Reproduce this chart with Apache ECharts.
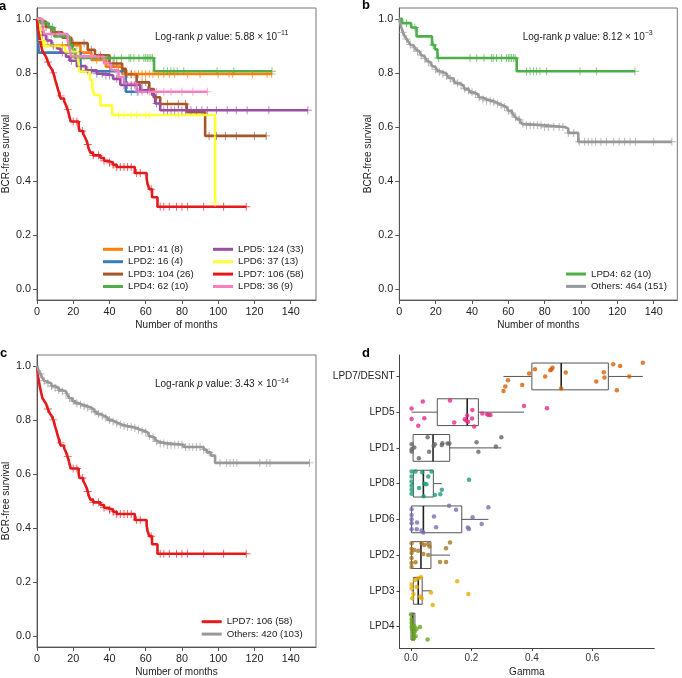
<!DOCTYPE html>
<html><head><meta charset="utf-8">
<script src="https://cdn.jsdelivr.net/npm/echarts/dist/echarts.min.js"></script>
<style>html,body{margin:0;padding:0;background:#fff}#c{width:682px;height:678px}</style>
</head><body><div id="c"></div>
<script>
// ---------- tick labels ----------
const monthTicks = [0, 20, 40, 60, 80, 100, 120, 140];
const survTicks = [0, 0.2, 0.4, 0.6, 0.8, 1.0];
const gammaTicks = [0, 0.2, 0.4, 0.6];
const boxCategories = ['LPD4', 'LPD3', 'LPD2', 'LPD6', 'LPD8', 'LPD1', 'LPD5', 'LPD7/DESNT'];

// ---------- Kaplan-Meier curves (step times, survival after step, end, censor times) ----------
const lpd1Times = [0, 1, 2, 3, 24, 30, 38, 47];
const lpd1Surv = [1, 0.976, 0.951, 0.902, 0.875, 0.848, 0.823, 0.796];
const lpd1End = 129.5;
const lpd1Censor = [14, 22, 33, 45, 50, 52, 54, 56, 58, 60, 62, 64, 67, 70, 73, 76, 83, 90, 100, 106, 108, 119, 127, 129.5];

const lpd2Times = [0, 1, 24, 49];
const lpd2Surv = [1, 0.875, 0.806, 0.73];
const lpd2End = 55.3;
const lpd2Censor = [20, 40, 52, 55.3];

const lpd3Times = [0, 2, 5, 8, 14, 19, 28, 32, 40, 47, 49, 55, 62, 64.5, 68, 82.7, 92.8];
const lpd3Surv = [1, 0.99, 0.97, 0.95, 0.93, 0.91, 0.885, 0.865, 0.835, 0.815, 0.795, 0.765, 0.74, 0.71, 0.685, 0.655, 0.567];
const lpd3End = 126.5;
const lpd3Censor = [5, 10, 20, 26, 30, 35, 42, 44, 52, 58, 60, 66, 72, 78, 82, 95, 99, 104, 110, 120, 126.5];

const lpd4Times = [0, 1.5, 6.5, 9.5, 18, 19.6, 21, 64.6];
const lpd4Surv = [1, 0.984, 0.968, 0.935, 0.903, 0.887, 0.855, 0.806];
const lpd4End = 129.7;
const lpd4Censor = [4, 8.6, 18.7, 21.5, 38.9, 42.6, 46.6, 50.8, 51.7, 53.5, 56.3, 59, 60, 60.9, 61.8, 62.8, 63.7, 70, 72, 73.9, 75.6, 77.4, 81, 99.4, 108.6, 129.7];

const lpd5Times = [0, 0.5, 1.5, 3, 5, 8, 11, 13, 16, 18, 22, 27, 33, 38, 42, 46, 57, 63.5, 65.2, 68];
const lpd5Surv = [1, 0.97, 0.95, 0.94, 0.92, 0.9, 0.89, 0.875, 0.86, 0.845, 0.825, 0.81, 0.797, 0.79, 0.778, 0.755, 0.736, 0.718, 0.687, 0.662];
const lpd5End = 149.5;
const lpd5Censor = [3, 6, 9, 14, 19, 24, 28, 30, 33, 36, 38, 40, 44, 48, 50, 52, 54, 58, 61, 66, 70, 72, 74, 76, 78, 80, 82, 85, 88, 91, 94, 99, 105, 110, 116, 128, 149.5];

const lpd6Times = [0, 1, 2, 2.6, 4, 15.4, 22.7, 23.5, 29.3, 30.5, 31.5, 35, 41.5, 98.3];
const lpd6Surv = [1, 0.973, 0.946, 0.92, 0.9, 0.877, 0.85, 0.805, 0.775, 0.745, 0.718, 0.68, 0.644, 0.32];
const lpd6End = 98.3;
const lpd6Censor = [3, 5, 10, 20, 26, 45, 48, 52, 55, 60, 62, 78, 98.3];

const lpd7Times = [0, 0.3, 0.6, 1, 1.5, 2, 2.5, 3, 4, 5, 6, 7, 8, 9, 9.5, 10, 10.7, 11.3, 12, 12.5, 13.2, 15, 16, 16.8, 17.5, 18, 18.7, 23, 23.5, 25.5, 26.5, 27.3, 28, 28.5, 29.5, 31, 35, 37, 39, 42, 44, 54, 60.5, 61, 62, 63.5, 66.5];
const lpd7Surv = [1, 0.98, 0.96, 0.945, 0.925, 0.91, 0.895, 0.88, 0.87, 0.86, 0.84, 0.825, 0.815, 0.8, 0.79, 0.775, 0.76, 0.745, 0.73, 0.715, 0.705, 0.695, 0.68, 0.665, 0.65, 0.635, 0.62, 0.6, 0.585, 0.575, 0.562, 0.55, 0.535, 0.52, 0.505, 0.495, 0.485, 0.475, 0.468, 0.46, 0.452, 0.43, 0.41, 0.39, 0.37, 0.34, 0.305];
const lpd7End = 115.5;
const lpd7Censor = [6, 9, 13, 17, 20, 22, 25, 28, 31, 34, 37, 40, 42, 44, 46, 48, 50, 52, 55, 57, 63, 68, 70, 73, 77, 80, 83, 92, 103, 115.5];

const lpd8Times = [0, 3, 4, 17, 18, 19, 37, 41, 45, 48, 55];
const lpd8Surv = [1, 0.972, 0.944, 0.917, 0.889, 0.861, 0.835, 0.81, 0.785, 0.76, 0.73];
const lpd8End = 94;
const lpd8Censor = [8, 12, 22, 26, 30, 34, 44, 56, 58, 62, 66, 70, 74, 80, 86, 94];

const othersBTimes = [0, 0.5, 1, 1.5, 2, 3, 4, 5, 6, 7, 8, 9, 10, 11, 12, 13, 14, 15, 16, 17, 18, 19, 20, 21, 22, 24, 26, 27, 28, 30, 31, 33, 35, 36, 38, 39, 41, 43, 44, 46, 48, 51, 53, 55, 57, 59, 60, 62, 63, 64, 65, 66.5, 67.5, 68.5, 80, 91, 93, 98.5];
const othersBSurv = [1, 0.985, 0.97, 0.96, 0.95, 0.935, 0.925, 0.915, 0.905, 0.9, 0.893, 0.887, 0.88, 0.873, 0.866, 0.86, 0.853, 0.846, 0.84, 0.833, 0.826, 0.82, 0.813, 0.808, 0.803, 0.797, 0.79, 0.783, 0.778, 0.77, 0.762, 0.755, 0.748, 0.741, 0.735, 0.728, 0.722, 0.715, 0.709, 0.702, 0.697, 0.692, 0.686, 0.68, 0.674, 0.667, 0.66, 0.652, 0.644, 0.636, 0.628, 0.62, 0.612, 0.606, 0.6, 0.594, 0.578, 0.545];
const othersBEnd = 150;
const othersBCensor = [2, 4, 6, 8, 10, 12, 14, 16, 18, 20, 22, 24, 26, 28, 30, 32, 34, 36, 38, 40, 42, 44, 46, 48, 50, 52, 54, 56, 58, 60, 62, 64, 66, 68, 70, 72, 74, 76, 78, 80, 82, 85, 88, 90, 93, 96, 99, 102, 104, 106, 108, 111, 114, 118, 121, 124, 127, 130, 140, 150];

const othersCTimes = [0, 0.5, 1, 2, 3, 4, 5, 6, 8, 10, 12, 14, 16, 17, 18, 19.5, 21, 23, 25, 28, 30, 31.5, 33, 35, 37, 39, 41, 43, 45, 47, 50, 53, 55, 57, 59, 61, 62, 63, 65, 66, 67, 72, 81, 92, 93.7, 96, 98.3];
const othersCSurv = [1, 0.99, 0.98, 0.97, 0.955, 0.945, 0.94, 0.935, 0.925, 0.918, 0.91, 0.905, 0.898, 0.89, 0.88, 0.87, 0.862, 0.856, 0.85, 0.845, 0.838, 0.83, 0.822, 0.815, 0.808, 0.8, 0.794, 0.788, 0.782, 0.777, 0.774, 0.77, 0.764, 0.76, 0.754, 0.748, 0.74, 0.735, 0.727, 0.72, 0.713, 0.708, 0.7, 0.69, 0.68, 0.668, 0.641];
const othersCEnd = 150.4;
const othersCCensor = [2, 4, 6, 8, 10, 12, 14, 16, 18, 20, 22, 24, 26, 28, 30, 32, 34, 36, 38, 40, 42, 44, 46, 48, 50, 52, 54, 56, 58, 60, 62, 64, 66, 68, 70, 72, 74, 76, 78, 80, 82, 84, 86, 88, 90, 92, 95, 101, 104.7, 106.6, 108.4, 110.3, 123, 126.8, 128.6, 150.4];

// ---------- box plot (gamma) ----------
// stats: [lower whisker, Q1, median, Q3, upper whisker]
const lpd4Stats = [0, 0, 0.006, 0.013, 0.013];
const lpd3Stats = [0.002, 0.008, 0.024, 0.037, 0.068];
const lpd2Stats = [0.002, 0.002, 0.033, 0.066, 0.129];
const lpd6Stats = [0.002, 0.002, 0.041, 0.168, 0.256];
const lpd8Stats = [0.002, 0.008, 0.041, 0.074, 0.102];
const lpd1Stats = [0.002, 0.007, 0.073, 0.128, 0.299];
const lpd5Stats = [0.002, 0.087, 0.186, 0.223, 0.374];
const lpd7Stats = [0.306, 0.40, 0.497, 0.653, 0.767];

// points: gamma values and vertical jitter (category units)
const lpd7Gamma = [0.306, 0.312, 0.321, 0.368, 0.391, 0.41, 0.444, 0.461, 0.465, 0.468, 0.497, 0.512, 0.613, 0.638, 0.64, 0.669, 0.692, 0.681, 0.722, 0.767];
const lpd7Jitter = [-0.41, -0.28, -0.11, -0.24, 0.08, 0.2, 0, 0.17, 0.2, 0.24, -0.34, 0.11, -0.14, 0.12, -0.03, 0.34, 0.29, -0.39, 0, 0.38];
const lpd5Gamma = [0.002, 0.039, 0.002, 0.044, 0.024, 0.129, 0.143, 0.178, 0.183, 0.186, 0.189, 0.203, 0.202, 0.209, 0.236, 0.252, 0.257, 0.263, 0.374, 0.45];
const lpd5Jitter = [0.1, 0.3, -0.19, -0.17, -0.38, 0.33, -0.29, -0.2, -0.24, -0.09, -0.27, 0.06, -0.18, -0.4, -0.04, -0.06, -0.08, -0.08, 0.17, 0.11];
const lpd1Gamma = [0.002, 0.002, 0.002, 0.011, 0.026, 0.055, 0.06, 0.075, 0.079, 0.102, 0.104, 0.121, 0.127, 0.217, 0.223, 0.281, 0.299];
const lpd1Jitter = [0.1, -0.04, -0.1, 0.01, -0.29, 0.3, -0.11, 0.05, 0.1, 0.08, 0.13, 0.12, 0.12, 0.16, -0.11, 0.04, 0.3];
const lpd8Gamma = [0.002, 0.002, 0.002, 0.002, 0.002, 0.002, 0.015, 0.027, 0.037, 0.044, 0.042, 0.051, 0.057, 0.068, 0.079, 0.097, 0.102, 0.192];
const lpd8Jitter = [0.34, 0.2, 0.06, -0.06, -0.17, -0.28, 0.34, -0.12, 0.32, 0, -0.35, -0.02, 0.2, 0.34, -0.32, -0.3, -0.17, 0.11];
const lpd6Gamma = [0.002, 0.002, 0.002, 0.002, 0.002, 0.02, 0.019, 0.035, 0.041, 0.076, 0.083, 0.126, 0.149, 0.188, 0.192, 0.204, 0.234, 0.256];
const lpd6Jitter = [0.28, 0.12, 0, -0.11, -0.28, -0.09, -0.28, -0.31, -0.37, 0.08, -0.22, 0.38, 0.27, -0.23, -0.27, 0.06, -0.13, 0.34];
const lpd2Gamma = [0.002, 0.002, 0.002, 0.002, 0.002, 0.002, 0.011, 0.015, 0.024, 0.035, 0.041, 0.044, 0.057, 0.057, 0.061, 0.096, 0.116, 0.116, 0.129];
const lpd2Jitter = [0.33, 0.17, 0.06, -0.08, -0.22, -0.33, 0.14, -0.2, 0.12, 0.33, 0.03, 0.28, 0.31, 0, 0.24, -0.19, -0.19, 0.19, 0.35];
const lpd3Gamma = [0.002, 0.002, 0.004, 0.013, 0.019, 0.024, 0.03, 0.033, 0.035, 0.066, 0.072, 0.153, 0.19, 0.008];
const lpd3Jitter = [0.18, 0.07, -0.21, 0.3, 0.11, 0.35, -0.16, 0.38, -0.21, -0.05, -0.4, 0.27, -0.09, -0.09];
const lpd4Gamma = [0, 0.002, 0.002, 0.002, 0.004, 0.008, 0.008, 0.008, 0.011, 0.013, 0.015, 0.019, 0.03, 0.055];
const lpd4Jitter = [0.34, 0.2, 0.1, -0.01, -0.08, -0.18, -0.27, -0.34, 0.01, -0.13, -0.27, -0.06, -0.01, -0.36];

// ---------- styling ----------
const FONT = 'Liberation Sans, Arial, Helvetica, sans-serif';
const set1 = {orange: '#FF7F00', blue: '#377EB8', brown: '#A65628', green: '#4DAF4A', purple: '#984EA3', yellow: '#FFFF33', red: '#E41A1C', pink: '#F781BF', gray: '#999999'};
const dark2 = ['#66A61E', '#E6AB02', '#A6761D', '#7570B3', '#1B9E77', '#666666', '#E7298A', '#D95F02'];
const plus = 'path://M4.4,0h1.2v10h-1.2z M0,4.4h10v1.2h-10z';

function stepData(times, surv, end) {
  const d = times.map((t, i) => [t, surv[i]]);
  d.push([end, surv[surv.length - 1]]);
  return d;
}
function survAt(times, surv, t) {
  let s = surv[0];
  for (let i = 0; i < times.length; i++) if (times[i] <= t) s = surv[i];
  return s;
}
function km(name, color, times, surv, end, censor, gi) {
  return [
    {type: 'line', name: name, xAxisIndex: gi, yAxisIndex: gi, step: 'end', data: stepData(times, surv, end),
     showSymbol: false, symbol: 'none', lineStyle: {color: color, width: 2.6}, itemStyle: {color: color}, silent: true, animation: false, z: 3},
    {type: 'scatter', name: name + ' (censored)', xAxisIndex: gi, yAxisIndex: gi,
     data: censor.map(t => [t, survAt(times, surv, t)]), symbol: plus, symbolSize: 8,
     itemStyle: {color: color, opacity: 0.7}, silent: true, animation: false, z: 3}
  ];
}

function survX(gi, max) {
  return {type: 'value', gridIndex: gi, min: 0, max: max, name: 'Number of months', nameLocation: 'middle', nameGap: 20,
    nameTextStyle: {fontSize: 10, color: '#222', fontFamily: FONT},
    axisLine: {show: true, onZero: false, lineStyle: {color: '#555', width: 1}},
    axisTick: {show: true, length: 4, customValues: monthTicks, lineStyle: {color: '#555'}},
    axisLabel: {customValues: monthTicks, fontSize: 10.8, color: '#222', margin: 7, fontFamily: FONT},
    splitLine: {show: false}};
}
function survY(gi) {
  return {type: 'value', gridIndex: gi, min: -0.04, max: 1.04, name: 'BCR-free survival', nameLocation: 'middle', nameGap: 26,
    nameTextStyle: {fontSize: 10, color: '#222', fontFamily: FONT},
    axisLine: {show: true, onZero: false, lineStyle: {color: '#555', width: 1}},
    axisTick: {show: true, length: 4, customValues: survTicks, lineStyle: {color: '#555'}},
    axisLabel: {customValues: survTicks, fontSize: 10.8, color: '#222', margin: 6, fontFamily: FONT, formatter: v => v.toFixed(1)},
    splitLine: {show: false}};
}
function legendBox(names, left, top) {
  return {data: names, left: left, top: top, orient: 'vertical', icon: 'rect', itemWidth: 20, itemHeight: 3, itemGap: 0.4,
    selectedMode: false, padding: 0, textStyle: {fontSize: 9.7, color: '#222', lineHeight: 12, fontFamily: FONT}};
}
function pText(left, top, val, sup) {
  return {type: 'text', left: left, top: top, style: {
    text: '{n|Log-rank }{i|p}{n| value: ' + val + ' × 10}{s|' + sup + '}',
    rich: {n: {fontSize: 10, fontFamily: FONT, fill: '#222', lineHeight: 14},
           i: {fontSize: 10, fontFamily: FONT, fill: '#222', fontStyle: 'italic', lineHeight: 14},
           s: {fontSize: 7, fontFamily: FONT, fill: '#222', verticalAlign: 'top', lineHeight: 9}}}};
}
function letter(left, top, t) {
  return {type: 'text', left: left, top: top, style: {text: t, fontSize: 13, fontWeight: 'bold', fontFamily: FONT, fill: '#000'}};
}

const names = {
  l1: 'LPD1: 41 (8)', l2: 'LPD2: 16 (4)', l3: 'LPD3: 104 (26)', l4: 'LPD4: 62 (10)',
  l5: 'LPD5: 124 (33)', l6: 'LPD6: 37 (13)', l7: 'LPD7: 106 (58)', l8: 'LPD8: 36 (9)',
  ob: 'Others: 464 (151)', oc: 'Others: 420 (103)'
};

const series = [].concat(
  km(names.l1, set1.orange, lpd1Times, lpd1Surv, lpd1End, lpd1Censor, 0),
  km(names.l2, set1.blue, lpd2Times, lpd2Surv, lpd2End, lpd2Censor, 0),
  km(names.l3, set1.brown, lpd3Times, lpd3Surv, lpd3End, lpd3Censor, 0),
  km(names.l4, set1.green, lpd4Times, lpd4Surv, lpd4End, lpd4Censor, 0),
  km(names.l5, set1.purple, lpd5Times, lpd5Surv, lpd5End, lpd5Censor, 0),
  km(names.l6, set1.yellow, lpd6Times, lpd6Surv, lpd6End, lpd6Censor, 0),
  km(names.l7, set1.red, lpd7Times, lpd7Surv, lpd7End, lpd7Censor, 0),
  km(names.l8, set1.pink, lpd8Times, lpd8Surv, lpd8End, lpd8Censor, 0),
  km(names.l4, set1.green, lpd4Times, lpd4Surv, lpd4End, lpd4Censor, 1),
  km(names.ob, set1.gray, othersBTimes, othersBSurv, othersBEnd, othersBCensor, 1),
  km(names.l7, set1.red, lpd7Times, lpd7Surv, lpd7End, lpd7Censor, 2),
  km(names.oc, set1.gray, othersCTimes, othersCSurv, othersCEnd, othersCCensor, 2)
);

// panel d
const allStats = [lpd4Stats, lpd3Stats, lpd2Stats, lpd6Stats, lpd8Stats, lpd1Stats, lpd5Stats, lpd7Stats];
const allGamma = [lpd4Gamma, lpd3Gamma, lpd2Gamma, lpd6Gamma, lpd8Gamma, lpd1Gamma, lpd5Gamma, lpd7Gamma];
const allJitter = [lpd4Jitter, lpd3Jitter, lpd2Jitter, lpd6Jitter, lpd8Jitter, lpd1Jitter, lpd5Jitter, lpd7Jitter];
const boxHalf = 0.375;

series.push({
  type: 'custom', xAxisIndex: 3, yAxisIndex: 3, silent: true, animation: false, z: 2,
  data: allStats.map((s, i) => s.concat([i])),
  encode: {x: [0, 1, 2, 3, 4], y: 5},
  renderItem: function (params, api) {
    const lo = api.value(0), q1 = api.value(1), md = api.value(2), q3 = api.value(3), hi = api.value(4), c = api.value(5);
    const pTop = api.coord([q1, c + boxHalf]), pBot = api.coord([q3, c - boxHalf]);
    const pLo = api.coord([lo, c]), pQ1 = api.coord([q1, c]), pQ3 = api.coord([q3, c]), pHi = api.coord([hi, c]);
    const mT = api.coord([md, c + boxHalf]), mB = api.coord([md, c - boxHalf]);
    const ls = {stroke: '#555', lineWidth: 1, fill: null};
    return {type: 'group', children: [
      {type: 'line', shape: {x1: pLo[0], y1: pLo[1], x2: pQ1[0], y2: pQ1[1]}, style: ls},
      {type: 'line', shape: {x1: pQ3[0], y1: pQ3[1], x2: pHi[0], y2: pHi[1]}, style: ls},
      {type: 'rect', shape: {x: pTop[0], y: pTop[1], width: pBot[0] - pTop[0], height: pBot[1] - pTop[1]}, style: {stroke: '#555', lineWidth: 1, fill: 'rgba(255,255,255,0)'}},
      {type: 'line', shape: {x1: mT[0], y1: mT[1], x2: mB[0], y2: mB[1]}, style: {stroke: '#222', lineWidth: 1.6}}
    ]};
  }
});
allGamma.forEach((g, i) => {
  series.push({type: 'scatter', xAxisIndex: 3, yAxisIndex: 3, silent: true, animation: false, z: 4,
    data: g.map((v, k) => [v, i + allJitter[i][k]]), symbol: 'circle', symbolSize: 4.5,
    itemStyle: {color: dark2[i]}});
});

const option = {
  animation: false,
  backgroundColor: '#fff',
  textStyle: {fontFamily: FONT},
  grid: [
    {left: 36, top: 8, width: 280, height: 292, show: true, borderColor: '#777', borderWidth: 1},
    {left: 399.3, top: 8, width: 278, height: 292, show: true, borderColor: '#777', borderWidth: 1},
    {left: 36, top: 355, width: 280, height: 292, show: true, borderColor: '#777', borderWidth: 1},
    {left: 399.5, top: 355, width: 254.8, height: 293}
  ],
  xAxis: [survX(0, 154), survX(1, 153), survX(2, 154),
    {type: 'value', gridIndex: 3, min: -0.038, max: 0.805, name: 'Gamma', nameLocation: 'middle', nameGap: 19,
     nameTextStyle: {fontSize: 10, color: '#222', fontFamily: FONT},
     axisLine: {show: true, onZero: false, lineStyle: {color: '#444', width: 1}},
     axisTick: {show: true, length: 3, customValues: gammaTicks, lineStyle: {color: '#444'}},
     axisLabel: {customValues: gammaTicks, fontSize: 10, color: '#333', margin: 5, fontFamily: FONT, formatter: v => v.toFixed(1)},
     splitLine: {show: false}}],
  yAxis: [survY(0), survY(1), survY(2),
    {type: 'value', gridIndex: 3, min: -0.6, max: 7.6,
     axisLine: {show: true, onZero: false, lineStyle: {color: '#444', width: 1}},
     axisTick: {show: true, length: 3, customValues: [0, 1, 2, 3, 4, 5, 6, 7], lineStyle: {color: '#444'}},
     axisLabel: {customValues: [0, 1, 2, 3, 4, 5, 6, 7], fontSize: 10, color: '#222', margin: 5, fontFamily: FONT,
       formatter: v => boxCategories[Math.round(v)]},
     splitLine: {show: false}}],
  legend: [
    legendBox([names.l1, names.l2, names.l3, names.l4], 103, 243.3),
    legendBox([names.l5, names.l6, names.l7, names.l8], 213, 243.3),
    legendBox([names.l4, names.ob], 566, 268),
    legendBox([names.l7, names.oc], 201.7, 615.7)
  ],
  graphic: [
    pText(155, 30, '5.88', '−11'),
    pText(522.7, 30, '8.12', '−3'),
    pText(155, 377.5, '3.43', '−14'),
    letter(-1, 0, 'a'), letter(362, -1, 'b'), letter(0, 347, 'c'), letter(362, 347, 'd')
  ],
  series: series
};

const chart = echarts.init(document.getElementById('c'), null, {renderer: 'canvas'});
chart.setOption(option);
</script>
</body></html>
